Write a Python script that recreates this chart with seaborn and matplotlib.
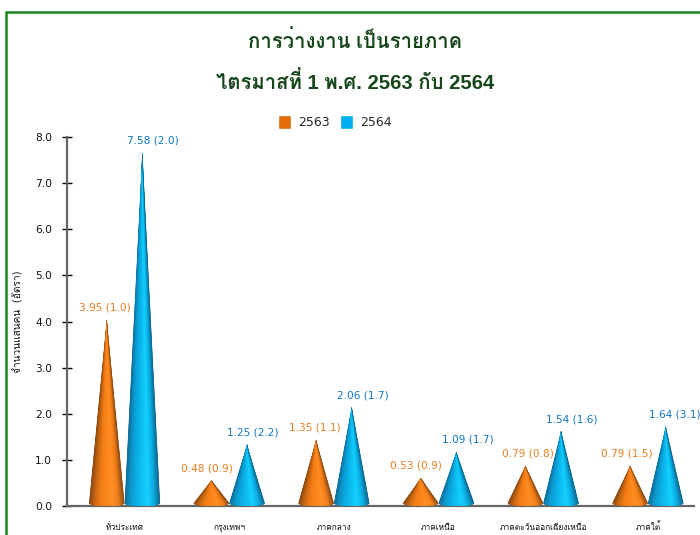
import matplotlib as mpl
mpl.use('Agg')

import matplotlib.pyplot as plt
import numpy as np
import pandas as pd
import seaborn as sns
from matplotlib.collections import PolyCollection
from matplotlib.colors import LinearSegmentedColormap
from matplotlib.patches import Polygon, Rectangle

regions = ['ทั่วประเทศ', 'กรุงเทพฯ', 'ภาคกลาง', 'ภาคเหนือ',
           'ภาคตะวันออกเฉียงเหนือ', 'ภาคใต้']
years = ['2563', '2564']
values_2563 = [3.95, 0.48, 1.35, 0.53, 0.79, 0.79]
values_2564 = [7.58, 1.25, 2.06, 1.09, 1.54, 1.64]
rates_2563 = [1.0, 0.9, 1.1, 0.9, 0.8, 1.5]
rates_2564 = [2.0, 2.2, 1.7, 1.7, 1.6, 3.1]
yticks = [0, 1, 2, 3, 4, 5, 6, 7, 8]

# sideways nudge of each label from its cone, in pixels
nudge_2563 = [-2, -5, -1, -5, 2, -3]
nudge_2564 = [11, 6, 11, 11, 11, 9]

W, H = 700, 535
ORANGE = '#E36C0A'
BLUE = '#00B0F0'
FONTS = ['DejaVu Sans', 'Loma']
TITLE_FONTS = ['Liberation Sans', 'Loma']

sns.set_style('ticks')
plt.rcParams['font.family'] = FONTS

dset = pd.DataFrame({
    'region': regions * 2,
    'year': [years[0]] * 6 + [years[1]] * 6,
    'value': values_2563 + values_2564,
})

fig = plt.figure(figsize=(W / 100, H / 100), dpi=100)
ax = fig.add_axes([67 / W, 1 - 506 / H, 627 / W, 369 / H])

plot = sns.barplot(x='region', y='value', hue='year', data=dset, ax=ax,
                   palette=[ORANGE, BLUE], width=0.68, gap=0, errorbar=None,
                   saturation=1)

XLIM = (-0.55, 5.44)
ax.set_xlim(*XLIM)
ax.set_ylim(0, 8)
px = 8 / 369  # one pixel in data units
ramps = [
    LinearSegmentedColormap.from_list('o', ['#7E410F', '#C4630F', '#F27A14', '#FA8418',
                                            '#FF8E22', '#F07C16', '#8A4810']),
    LinearSegmentedColormap.from_list('b', ['#0A6690', '#0A94CA', '#08ACE4', '#0CBEF2',
                                            '#12D0FF', '#08ACE2', '#0A668E']),
]
shade = (np.arange(64) + 0.5) / 64

# the bars give the positions, each one is redrawn as a cone
for container, ramp in zip(ax.containers, ramps):
    for bar in container:
        left, width = bar.get_x(), bar.get_width()
        mid = left + width / 2
        top = bar.get_height() + 3.5 * px
        arc = np.linspace(np.pi, 2 * np.pi, 30)
        base = np.column_stack([mid + width / 2 * np.cos(arc),
                                3 * px + 3.5 * px * np.sin(arc)])
        cone = Polygon(np.vstack([[mid, top], base]), closed=True,
                       transform=ax.transData)
        edges = left + width * np.linspace(0, 1, 65)
        # one strip per shade, all meeting at the tip
        strips = [[(a, -2 * px), (a, 3 * px), (mid, top), (b, 3 * px), (b, -2 * px)]
                  for a, b in zip(edges[:-1], edges[1:])]
        coll = PolyCollection(strips, facecolors=ramp(shade), edgecolors='face',
                              linewidths=0.3, zorder=3, transform=ax.transData)
        ax.add_collection(coll, autolim=False)
        coll.set_clip_path(cone)
        bar.set_visible(False)

ax.set_xlim(*XLIM)
ax.set_ylim(0, 8)

label_sets = [(values_2563, rates_2563, nudge_2563, '#ED7D1E'),
              (values_2564, rates_2564, nudge_2564, '#0F75C4')]
for container, (vals, rates, nudges, color) in zip(ax.containers, label_sets):
    for bar, val, rate, nudge in zip(container, vals, rates, nudges):
        ax.annotate(f'{val:.2f} ({rate:.1f})',
                    (bar.get_x() + bar.get_width() / 2, bar.get_height()),
                    xytext=(nudge * 0.72, 7.8), textcoords='offset points',
                    ha='center', va='bottom', fontsize=7.6, color=color,
                    zorder=5, annotation_clip=False)

ax.set_yticks(yticks)
ax.set_yticklabels([f'{t:.1f}' for t in yticks], fontsize=7.7, color='#111111')
ax.tick_params(axis='y', direction='inout', length=7.5, width=1, color='black', pad=7)
ax.tick_params(axis='x', length=0, pad=17, labelsize=6, labelcolor='#111111')
for ticklabel in ax.get_xticklabels():
    ticklabel.set_va('baseline')
ax.set_xlabel('')
ax.set_ylabel('จำนวนแสนคน  (อัตรา)', fontsize=7.3, color='#111111')
ax.yaxis.set_label_coords(-43 / 627, 0.5)

sns.despine(ax=ax)
for side in ['left', 'bottom']:
    ax.spines[side].set_color('#666666')
    ax.spines[side].set_linewidth(1.6)

sns.move_legend(ax, 'center', bbox_to_anchor=(335 / W, 1 - 122 / H),
                bbox_transform=fig.transFigure, ncol=2, title=None, frameon=False,
                fontsize=9, handlelength=1.05, handleheight=1.35,
                handletextpad=0.55, columnspacing=0.85)

# green frame runs off the right and bottom of the picture
fig.add_artist(Rectangle((5.5 / W, -0.1), 1.1, 1 - 12 / H + 0.1, fill=False,
                         edgecolor='#17861A', linewidth=1.8,
                         transform=fig.transFigure))

fig.text(355 / W, 1 - 41 / H, 'การว่างงาน เป็นรายภาค', ha='center', va='center',
         fontsize=14.6, color='#17461A', fontweight='bold', family=TITLE_FONTS)
fig.text(355 / W, 1 - 82 / H, 'ไตรมาสที่ 1 พ.ศ. 2563 กับ 2564', ha='center', va='center',
         fontsize=14.6, color='#17461A', fontweight='bold', family=TITLE_FONTS)

fig.savefig('out.png', dpi=100)
